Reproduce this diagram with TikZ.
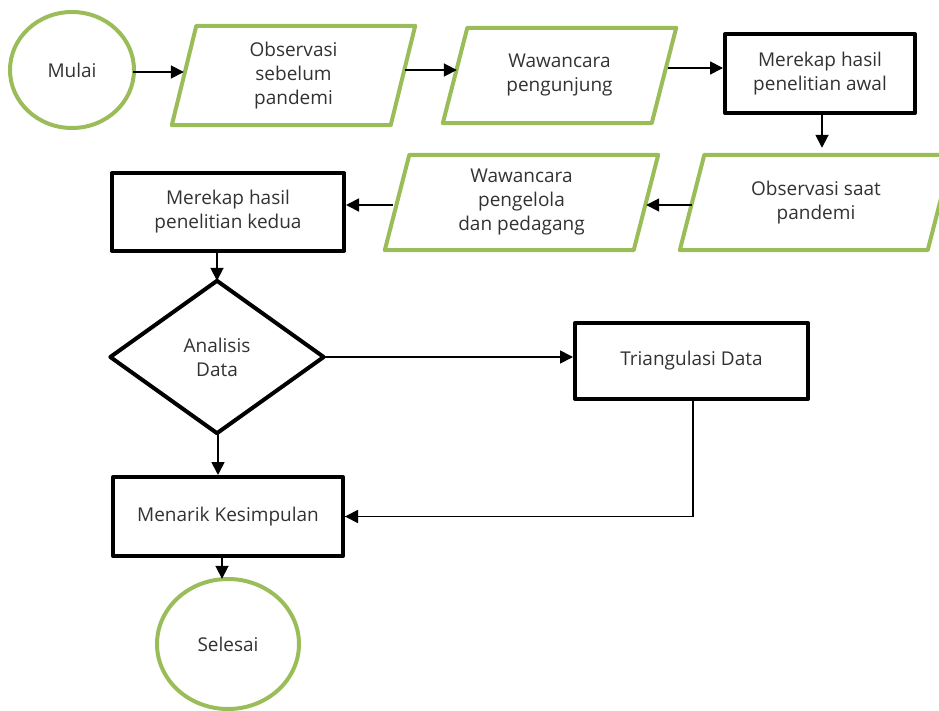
\documentclass[tikz,border=0pt]{standalone}
\usepackage{fontspec}
\setmainfont{Open Sans}
\usetikzlibrary{arrows.meta}
\definecolor{flgreen}{RGB}{155,189,89}
\definecolor{txtgray}{RGB}{50,50,50}
\tikzset{
  box/.style={draw=black, line width=4pt, line join=round, minimum width=#1, inner sep=0pt, align=center, text=txtgray, font=\fontsize{19}{24}\selectfont},
  plain/.style={draw=none, inner sep=0pt, align=center, text=txtgray, font=\fontsize{19}{24}\selectfont},
  greenline/.style={draw=flgreen, line width=4pt, line join=round},
  arr/.style={draw=black, line width=1.8pt, -{Triangle[length=13pt,width=13pt]}},
  conn/.style={draw=black, line width=1.6pt}
}
\begin{document}
\begin{tikzpicture}[x=1pt,y=-1pt]
\useasboundingbox (0,0) rectangle (939,711);
\clip (0,0) rectangle (939,711);
% terminators
\node[plain, minimum width=124pt, minimum height=116pt] (mulai) at (72,70) {Mulai};
\draw[greenline] (mulai.center) ellipse [x radius=62pt, y radius=58pt];
\node[plain, minimum width=142pt, minimum height=130pt] (sel) at (228,644) {Selesai};
\draw[greenline] (sel.center) ellipse [x radius=71pt, y radius=65pt];
% parallelograms
\node[plain, minimum width=243pt, minimum height=99pt] (p1) at (293.5,75.5) {Observasi\\sebelum\\pandemi};
\node[plain, minimum width=233pt, minimum height=95pt] (p2) at (559.5,75.5) {Wawancara\\pengunjung};
\node[plain, minimum width=272pt, minimum height=95pt] (p3) at (816,202.5) {Observasi saat\\pandemi};
\node[plain, minimum width=273pt, minimum height=95pt] (p4) at (521.5,202.5) {Wawancara\\pengelola\\dan pedagang};
\foreach \n in {p1,p2,p3,p4}
  \draw[greenline] ([xshift=24.5pt]\n.south west |- \n.north) -- (\n.north east) -- ([xshift=-24.5pt]\n.north east |- \n.south) -- (\n.south west) -- cycle;
% process boxes
\node[box=190pt, minimum height=79pt] (r1) at (820,73.5) {Merekap hasil\\penelitian awal};
\node[box=232pt, minimum height=78pt] (r2) at (228,212) {Merekap hasil\\penelitian kedua};
\node[box=233pt, minimum height=76pt] (r3) at (691.5,361) {Triangulasi Data};
\node[box=230pt, minimum height=79pt] (r4) at (228,516.5) {Menarik Kesimpulan};
% decision
\node[plain, minimum width=213pt, minimum height=152pt] (dia) at (217,357) {Analisis\\Data};
\draw[draw=black, line width=4pt, line join=round] (dia.north) -- (dia.east) -- (dia.south) -- (dia.west) -- cycle;
% connectors
\coordinate (m1) at ([xshift=-1pt,yshift=-2pt]mulai.east);
\draw[arr] (m1) -- ([xshift=12pt]p1.west |- m1);
\coordinate (a1) at ([xshift=-10pt,yshift=5.5pt]p1.east);
\draw[arr] (a1) -- ([xshift=14pt]p2.west |- a1);
\coordinate (a2) at ([xshift=-8pt,yshift=7.5pt]p2.east);
\draw[arr] (a2) -- (r1.west |- a2);
\coordinate (a3) at ([xshift=2pt]r1.south);
\draw[arr] (a3) -- ([yshift=7pt]a3 |- p3.north);
\coordinate (a4) at ([xshift=12pt,yshift=-2.5pt]p3.west);
\draw[arr] (a4) -- ([xshift=-12pt]p4.east |- a4);
\coordinate (a5) at ([xshift=8pt,yshift=-2.5pt]p4.west);
\draw[arr] (a5) -- (r2.east |- a5);
\draw[arr] (dia.north |- r2.south) -- (dia.north);
\draw[arr] (dia.east) -- (r3.west |- dia.east);
\draw[arr] ([xshift=1pt]dia.south) -- ([xshift=1pt]dia.south |- r4.north);
\draw[conn] ([xshift=1.5pt]r3.south) -- ([xshift=1.5pt]r3.south |- r4.east) -- (r4.east);
\draw[arr] ([xshift=-5pt]r3.south |- r4.east) -- (r4.east);
\draw[arr] ([xshift=-6pt]r4.south) -- ([xshift=-6pt]sel.north);
\end{tikzpicture}
\end{document}
